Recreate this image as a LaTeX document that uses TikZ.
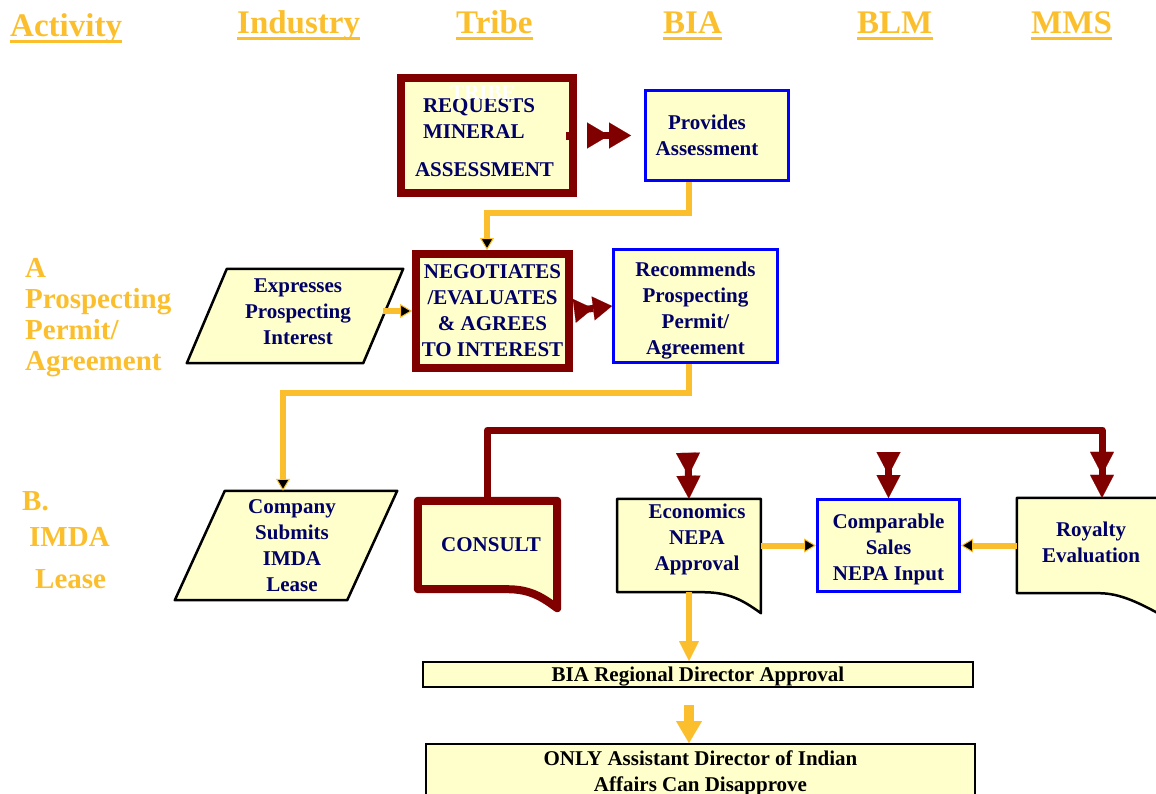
\documentclass[tikz,border=0pt]{standalone}
\usepackage{fontspec}
\setmainfont{Liberation Serif}
\usepackage{tikz}
\usetikzlibrary{arrows.meta}
\usetikzlibrary{backgrounds}
\definecolor{gold}{RGB}{251,191,46}
\definecolor{maroon}{RGB}{128,0,0}
\definecolor{pale}{RGB}{255,255,204}
\definecolor{navy}{RGB}{0,0,102}

\begin{document}
\begin{tikzpicture}[x=1pt, y=-1pt,
	heading/.style={text=gold, font=\fontsize{33}{36}\selectfont\bfseries, inner sep=0pt, anchor=base west},
	rowlabel/.style={text=gold, font=\fontsize{29}{31}\selectfont\bfseries, inner sep=0pt, anchor=base west, align=left},
	boxtext/.style={text=navy, font=\fontsize{21}{26}\selectfont\bfseries, align=center, inner sep=0pt},
	tribebox/.style={boxtext, draw=maroon, line width=8pt, fill=pale},
	biabox/.style={boxtext, draw=blue, line width=3pt, fill=pale},
	plainbox/.style={boxtext, text=black, draw=black, line width=2pt, fill=pale},
	shapeonly/.style={boxtext},
	outline/.style={draw=black, line width=2.5pt, fill=pale, line join=round},
	ul/.style={draw=gold, line width=3pt},
	yline/.style={draw=gold, line width=6pt, -{Triangle[length=12pt, width=14pt, fill=black, line width=1pt]}},
	yhead/.style={draw=gold, line width=6pt, -{Triangle[length=20pt, width=20pt, line width=0.1pt]}},
	dblhead/.style={draw=maroon, line width=7pt, -{Triangle[length=23pt, width=24pt, line width=0.1pt]Triangle[length=23pt, width=24pt, line width=0.1pt]}}]
	\useasboundingbox (0,0) rectangle (1156,793);
	\clip (0,0) rectangle (1156,793);

	\node [heading] (act) at (10,36) {Activity};
	\node [heading] (ind) at (237,33) {Industry};
	\node [heading] (tri) at (456,33) {Tribe};
	\node [heading] (bia) at (663,33) {BIA};
	\node [heading] (blm) at (857,33) {BLM};
	\node [heading] (mms) at (1031,33) {MMS};
	\foreach \h in {act,ind,tri,bia,blm,mms}
		\draw [ul] ([yshift=-5pt]\h.base west) -- ([yshift=-5pt]\h.base east);

	\node [rowlabel] (rowa) at (25,370) {A\\Prospecting\\Permit/\\Agreement};
	\node [rowlabel] (rowb1) at (22,510) {B.};
	\node [rowlabel] (rowb2) at (29,546) {IMDA};
	\node [rowlabel] (rowb3) at (35,588) {Lease};

	\node [tribebox, align=left, minimum width=172pt, minimum height=115pt] (req) at (487,135.5) {\rule{0pt}{18pt}\hspace*{8pt}REQUESTS\\\hspace*{8pt}MINERAL\\[12pt]ASSESSMENT\kern5pt};
	\node [boxtext, text=white] (tribeghost) at (483,93) {TRIBE};
	\fill [maroon] ([xshift=-11pt, yshift=4pt]req.east) rectangle ([xshift=-1pt, yshift=-4pt]req.east);
	\node [biabox, minimum width=143pt, minimum height=90pt] (prov) at (717,135.5) {Provides\kern20pt\\Assessment\kern20pt};

	\node [tribebox, minimum width=153pt, minimum height=114pt] (neg) at (492.5,311) {NEGOTIATES\\/EVALUATES\\\& AGREES\\TO INTEREST};
	\node [shapeonly, minimum width=176pt, minimum height=94pt] (express) at (295,316) {Expresses\kern-6pt\\Prospecting\kern-6pt\\Interest\kern-6pt\rule[-8pt]{0pt}{8pt}};
	\node [biabox, minimum width=164pt, minimum height=113pt] (rec) at (695.5,306) {\rule{0pt}{24pt}Recommends\\Prospecting\\Permit/\\Agreement};

	\node [shapeonly, minimum width=172pt, minimum height=109pt] (company) at (286,545.5) {Company\kern-12pt\\Submits\kern-12pt\\IMDA\kern-12pt\\Lease\kern-12pt};
	\node [shapeonly, minimum width=139pt, minimum height=88pt] (consult) at (487.5,545) {CONSULT\kern-7pt};
	\node [shapeonly, minimum width=143.5pt, minimum height=81pt] (econ) at (689,539.5) {Economics\kern-16pt\\NEPA\kern-16pt\\Approval\kern-16pt};
	\node [biabox, minimum width=142pt, minimum height=92pt] (comp) at (888.5,545.5) {\rule{0pt}{22pt}Comparable\\Sales\\NEPA Input};
	\node [shapeonly, minimum width=148pt, minimum height=89pt] (roy) at (1091,542.5) {Royalty\\Evaluation};

	\node [plainbox, minimum width=550pt, minimum height=25pt] (region) at (698,674.5) {\rule{0pt}{18pt}BIA Regional Director Approval};
	\node [plainbox, minimum width=549pt, minimum height=58pt] (asst) at (700.5,773) {ONLY Assistant Director of Indian\\Affairs Can Disapprove};

	\begin{scope}[on background layer]
		\draw [outline] ([xshift=20pt]express.north west) -- ([xshift=20pt]express.north east) -- ([xshift=-20pt]express.south east) -- ([xshift=-20pt]express.south west) -- cycle;
		\draw [outline] ([xshift=25pt]company.north west) -- ([xshift=25pt]company.north east) -- ([xshift=-25pt]company.south east) -- ([xshift=-25pt]company.south west) -- cycle;
		\draw [outline, draw=maroon, line width=8pt] (consult.south west) -- (consult.north west) -- (consult.north east) -- ([yshift=-19pt]consult.south east) .. controls ([xshift=-16pt, yshift=-7pt]consult.south east) and ([xshift=-28pt]consult.south east) .. ([xshift=-50pt]consult.south east) -- cycle;
		\draw [outline] ([yshift=-12pt]econ.south west) -- (econ.north west) -- (econ.north east) -- ([yshift=-33pt]econ.south east) .. controls ([xshift=-18pt, yshift=-20pt]econ.south east) and ([xshift=-32pt, yshift=-12pt]econ.south east) .. ([xshift=-58pt, yshift=-12pt]econ.south east) -- cycle;
		\draw [outline] ([yshift=-6pt]roy.south west) -- (roy.north west) -- (roy.north east) -- ([yshift=-30pt]roy.south east) .. controls ([xshift=-25pt, yshift=-16pt]roy.south east) and ([xshift=-45pt, yshift=-6pt]roy.south east) .. ([xshift=-66pt, yshift=-6pt]roy.south east) -- cycle;
	\end{scope}

	\coordinate (turn1) at (600,213);
	\coordinate (turn2) at (500,393);
	\coordinate (turn3) at (800,430);
	\coordinate (econtop) at (688,453);
	\coordinate (comptop) at (888.5,453);

	\draw [dblhead, -{Triangle[length=22pt, width=26pt, line width=0.1pt]Triangle[length=22pt, width=26pt, line width=0.1pt]}, shorten <=14pt, shorten >=13pt] (req.east) -- (prov.west);
	\draw [yline] ([xshift=-28pt]prov.south) |- (turn1) -| ([xshift=-5.5pt]neg.north);
	\draw [yline] (neg.west -| express.east) -- (neg.west);
	\draw [dblhead, -{Triangle[length=19pt, width=24pt, line width=0.1pt]Triangle[length=19pt, width=24pt, line width=0.1pt]}, shorten <=4pt] (neg.east) -- (rec.west);
	\draw [yline] ([xshift=-6.5pt]rec.south) |- (turn2) -| ([xshift=-3pt]company.north);

	\draw [dblhead, line join=round] (consult.north) |- (turn3) -| ([xshift=11pt]roy.north);
	\draw [dblhead] (econtop) -- (econ.north);
	\draw [dblhead] (comptop) -- (comp.north);
	\draw [yline] (comp.west -| econ.east) -- (comp.west);
	\draw [yline] (comp.east -| roy.west) -- (comp.east);

	\draw [yhead, shorten <=12pt] (econ.south) -- (econ.south |- region.north);
	\draw [yhead, line width=10pt, -{Triangle[length=22pt, width=26pt, line width=0.1pt]}, shorten <=17pt] (region.south -| econ.south) -- (econ.south |- asst.north);
\end{tikzpicture}
\end{document}
